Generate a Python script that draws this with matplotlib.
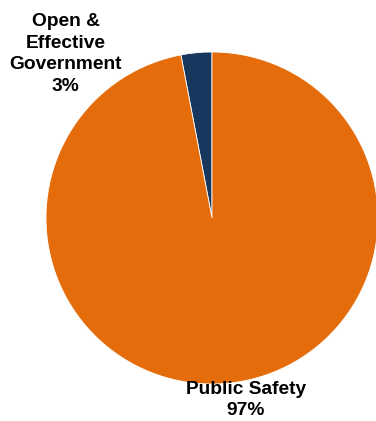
import matplotlib as mpl
import matplotlib.pyplot as plt

mpl.rcParams.update({"font.family": "Liberation Sans", "font.weight": "bold"})

categories = ["Open &\nEffective\nGovernment", "Public Safety"]
shares = [3, 97]
colors = ["#17375E", "#E46C0A"]

W, H = 376, 421
cx, cy, r = 212, 218, 166

fig = plt.figure(figsize=(W / 100, H / 100), dpi=100)
ax = fig.add_axes([(cx - r) / W, (H - cy - r) / H, 2 * r / W, 2 * r / H])
ax.pie(shares, colors=colors, startangle=90, counterclock=True, radius=1,
       wedgeprops=dict(edgecolor="white", linewidth=0.6))
ax.set_xlim(-1, 1); ax.set_ylim(-1, 1)
ax.set_aspect("equal")
ax.axis("off")

# label positions in pixels -> data units
label_px = [(65.5, 54), (246, 400)]
for name, val, (px, py) in zip(categories, shares, label_px):
    ax.text((px - cx) / r, (cy - py) / r, f"{name}\n{val}%", ha="center", va="center",
            fontsize=13.8, fontweight="bold", linespacing=1.38, clip_on=False)

fig.savefig("out.png", dpi=100)
